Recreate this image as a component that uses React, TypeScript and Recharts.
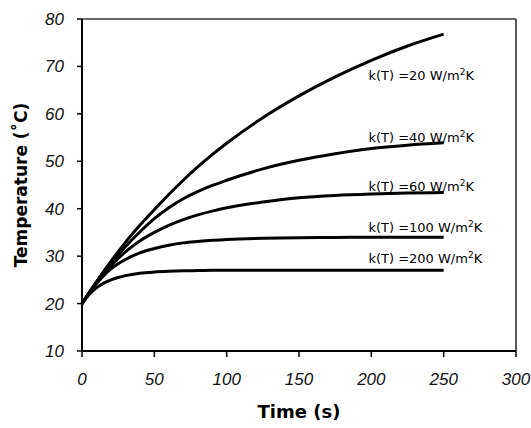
import React from 'react';
import {
  LineChart,
  Line,
  XAxis,
  YAxis,
  ReferenceDot,
  ReferenceLine,
} from 'recharts';

// time axis (s)
const times = [0, 5, 10, 15, 20, 25, 30, 40, 50, 60, 70, 80, 90, 100, 125, 150, 175, 200, 225, 250];

// temperature (°C) for each k(T)
const k20 = [20, 22.3, 24.6, 26.8, 28.9, 30.9, 32.9, 36.5, 39.8, 43.0, 46.0, 48.8, 51.4, 53.8, 59.2, 63.8, 67.8, 71.3, 74.3, 76.8];
const k40 = [20, 22.3, 24.5, 26.6, 28.5, 30.3, 32.0, 35.1, 37.9, 40.2, 42.1, 43.6, 44.9, 46.0, 48.4, 50.2, 51.6, 52.7, 53.4, 53.9];
const k60 = [20, 22.3, 24.4, 26.3, 28.0, 29.5, 30.9, 33.2, 35.0, 36.5, 37.7, 38.7, 39.5, 40.2, 41.4, 42.3, 42.8, 43.1, 43.3, 43.4];
const k100 = [20, 22.2, 24.2, 25.9, 27.3, 28.4, 29.3, 30.7, 31.6, 32.3, 32.8, 33.1, 33.35, 33.5, 33.75, 33.9, 33.95, 34, 34, 34];
const k200 = [20, 21.9, 23.3, 24.3, 25.0, 25.5, 25.9, 26.4, 26.65, 26.8, 26.9, 26.95, 27, 27, 27, 27, 27, 27, 27, 27];

const xTicks = [0, 50, 100, 150, 200, 250, 300];
const yTicks = [10, 20, 30, 40, 50, 60, 70, 80];

// curve annotations
const kNames = ['20', '40', '60', '100', '200'];
const labelTemps = [68.2, 55.1, 44.8, 36.1, 29.6];
const labelTime = 198;

const seriesKeys = ['k20', 'k40', 'k60', 'k100', 'k200'];
const data = times.map((t, i) => ({
  t,
  k20: k20[i],
  k40: k40[i],
  k60: k60[i],
  k100: k100[i],
  k200: k200[i],
}));

const tickStyle = {
  fill: '#111',
  fontSize: 17,
  fontStyle: 'italic',
  fontFamily: '"Liberation Sans", Arial, sans-serif',
};

const KLabel = (props: any) => {
  const vb = props.viewBox || {};
  const x = (vb.x ?? 0) + (vb.width ?? 0) / 2;
  const y = (vb.y ?? 0) + (vb.height ?? 0) / 2;
  return (
    <text
      x={x}
      y={y}
      dy={5}
      fill="#000"
      fontSize={13}
      fontFamily='"DejaVu Sans", sans-serif'
    >
      {`k(T) =${props.name} W/m`}
      <tspan dy={-5} fontSize={9}>2</tspan>
      <tspan dy={5}>K</tspan>
    </text>
  );
};

const YTitle = (props: any) => {
  const vb = props.viewBox;
  const cx = vb.x + 21;
  const cy = vb.y + vb.height / 2;
  return (
    <text
      x={cx}
      y={cy}
      dy={6}
      textAnchor="middle"
      transform={`rotate(-90 ${cx} ${cy})`}
      fill="#000"
      fontSize={17}
      fontWeight="bold"
      fontFamily='"DejaVu Sans", sans-serif'
    >
      Temperature (˚C)
    </text>
  );
};

const XTitle = (props: any) => {
  const vb = props.viewBox;
  return (
    <text
      x={vb.x + vb.width / 2}
      y={vb.y + 67}
      textAnchor="middle"
      fill="#000"
      fontSize={18}
      fontWeight="bold"
      fontFamily='"DejaVu Sans", sans-serif'
    >
      Time (s)
    </text>
  );
};

export default function App() {
  return (
    <div style={{ position: 'absolute', left: 0, top: 0, background: '#fff' }}>
      <LineChart
        width={531}
        height={428}
        data={data}
        margin={{ top: 19, right: 15, left: 0, bottom: 0 }}
      >
        <XAxis
          dataKey="t"
          type="number"
          domain={[0, 300]}
          ticks={xTicks}
          height={77}
          tick={tickStyle}
          tickSize={6}
          tickMargin={16}
          axisLine={{ stroke: '#000', strokeWidth: 2 }}
          tickLine={{ stroke: '#000', strokeWidth: 1.5 }}
          label={{ content: (p: any) => <XTitle {...p} /> }}
        />
        <YAxis
          type="number"
          domain={[10, 80]}
          ticks={yTicks}
          width={82}
          tick={tickStyle}
          tickSize={5}
          tickMargin={13}
          axisLine={{ stroke: '#000', strokeWidth: 2 }}
          tickLine={{ stroke: '#000', strokeWidth: 1.5 }}
          label={{ content: (p: any) => <YTitle {...p} /> }}
        />
        {/* plot frame: top and right edges */}
        <ReferenceLine y={80} stroke="#333" strokeWidth={1.5} />
        <ReferenceLine x={300} stroke="#222" strokeWidth={1.5} />
        {seriesKeys.map((key) => (
          <Line
            key={key}
            type="monotone"
            dataKey={key}
            stroke="#000"
            strokeWidth={3}
            dot={false}
            isAnimationActive={false}
          />
        ))}
        {kNames.map((name, i) => (
          <ReferenceDot
            key={name}
            x={labelTime}
            y={labelTemps[i]}
            r={0}
            fill="none"
            stroke="none"
            label={{ content: (p: any) => <KLabel {...p} name={name} /> }}
          />
        ))}
      </LineChart>
    </div>
  );
}
